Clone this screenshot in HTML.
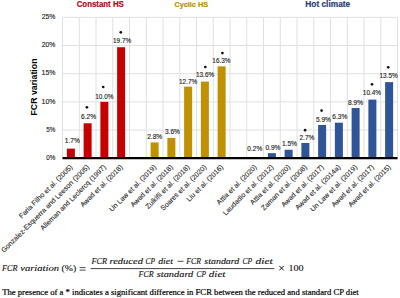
<!DOCTYPE html><html><head><meta charset="utf-8"><style>html,body{margin:0;padding:0;background:#fff;width:400px;height:298px;overflow:hidden}svg{display:block}</style></head><body>
<svg width="400" height="298" viewBox="0 0 400 298" font-family="Liberation Sans, sans-serif">
<rect width="400" height="298" fill="#fff"/>
<line x1="62.50" x2="397.50" y1="130.03" y2="130.03" stroke="#E0E0E0" stroke-width="1"/>
<line x1="62.50" x2="397.50" y1="101.86" y2="101.86" stroke="#E0E0E0" stroke-width="1"/>
<line x1="62.50" x2="397.50" y1="73.69" y2="73.69" stroke="#E0E0E0" stroke-width="1"/>
<line x1="62.50" x2="397.50" y1="45.52" y2="45.52" stroke="#E0E0E0" stroke-width="1"/>
<line x1="62.50" x2="397.50" y1="17.35" y2="17.35" stroke="#E0E0E0" stroke-width="1"/>
<line x1="62.50" x2="62.50" y1="17.35" y2="158.20" stroke="#E0E0E0" stroke-width="1"/>
<line x1="79.25" x2="79.25" y1="17.35" y2="158.20" stroke="#E0E0E0" stroke-width="1"/>
<line x1="96.00" x2="96.00" y1="17.35" y2="158.20" stroke="#E0E0E0" stroke-width="1"/>
<line x1="112.75" x2="112.75" y1="17.35" y2="158.20" stroke="#E0E0E0" stroke-width="1"/>
<line x1="129.50" x2="129.50" y1="17.35" y2="158.20" stroke="#E0E0E0" stroke-width="1"/>
<line x1="146.25" x2="146.25" y1="17.35" y2="158.20" stroke="#E0E0E0" stroke-width="1"/>
<line x1="163.00" x2="163.00" y1="17.35" y2="158.20" stroke="#E0E0E0" stroke-width="1"/>
<line x1="179.75" x2="179.75" y1="17.35" y2="158.20" stroke="#E0E0E0" stroke-width="1"/>
<line x1="196.50" x2="196.50" y1="17.35" y2="158.20" stroke="#E0E0E0" stroke-width="1"/>
<line x1="213.25" x2="213.25" y1="17.35" y2="158.20" stroke="#E0E0E0" stroke-width="1"/>
<line x1="230.00" x2="230.00" y1="17.35" y2="158.20" stroke="#E0E0E0" stroke-width="1"/>
<line x1="246.75" x2="246.75" y1="17.35" y2="158.20" stroke="#E0E0E0" stroke-width="1"/>
<line x1="263.50" x2="263.50" y1="17.35" y2="158.20" stroke="#E0E0E0" stroke-width="1"/>
<line x1="280.25" x2="280.25" y1="17.35" y2="158.20" stroke="#E0E0E0" stroke-width="1"/>
<line x1="297.00" x2="297.00" y1="17.35" y2="158.20" stroke="#E0E0E0" stroke-width="1"/>
<line x1="313.75" x2="313.75" y1="17.35" y2="158.20" stroke="#E0E0E0" stroke-width="1"/>
<line x1="330.50" x2="330.50" y1="17.35" y2="158.20" stroke="#E0E0E0" stroke-width="1"/>
<line x1="347.25" x2="347.25" y1="17.35" y2="158.20" stroke="#E0E0E0" stroke-width="1"/>
<line x1="364.00" x2="364.00" y1="17.35" y2="158.20" stroke="#E0E0E0" stroke-width="1"/>
<line x1="380.75" x2="380.75" y1="17.35" y2="158.20" stroke="#E0E0E0" stroke-width="1"/>
<line x1="397.50" x2="397.50" y1="17.35" y2="158.20" stroke="#E0E0E0" stroke-width="1"/>
<text x="46.25" y="159.90" font-size="7.3" fill="#262626" textLength="9.07" lengthAdjust="spacingAndGlyphs" stroke="#262626" stroke-width="0.15">0%</text>
<text x="46.25" y="131.73" font-size="7.3" fill="#262626" textLength="9.08" lengthAdjust="spacingAndGlyphs" stroke="#262626" stroke-width="0.15">5%</text>
<text x="41.58" y="103.56" font-size="7.3" fill="#262626" textLength="13.77" lengthAdjust="spacingAndGlyphs" stroke="#262626" stroke-width="0.15">10%</text>
<text x="41.58" y="75.39" font-size="7.3" fill="#262626" textLength="13.77" lengthAdjust="spacingAndGlyphs" stroke="#262626" stroke-width="0.15">15%</text>
<text x="41.76" y="47.22" font-size="7.3" fill="#262626" textLength="13.58" lengthAdjust="spacingAndGlyphs" stroke="#262626" stroke-width="0.15">20%</text>
<text x="41.76" y="19.05" font-size="7.3" fill="#262626" textLength="13.58" lengthAdjust="spacingAndGlyphs" stroke="#262626" stroke-width="0.15">25%</text>
<rect x="66.88" y="148.62" width="8.0" height="9.58" fill="#C50000"/>
<rect x="83.62" y="123.27" width="8.0" height="34.93" fill="#C50000"/>
<rect x="100.38" y="101.86" width="8.0" height="56.34" fill="#C50000"/>
<rect x="117.12" y="47.21" width="8.0" height="110.99" fill="#C50000"/>
<rect x="150.62" y="142.42" width="8.0" height="15.78" fill="#BF9000"/>
<rect x="167.38" y="137.92" width="8.0" height="20.28" fill="#BF9000"/>
<rect x="184.12" y="86.65" width="8.0" height="71.55" fill="#BF9000"/>
<rect x="200.88" y="81.58" width="8.0" height="76.62" fill="#BF9000"/>
<rect x="217.62" y="66.37" width="8.0" height="91.83" fill="#BF9000"/>
<rect x="251.12" y="157.07" width="8.0" height="1.13" fill="#2F5597"/>
<rect x="267.88" y="153.13" width="8.0" height="5.07" fill="#2F5597"/>
<rect x="284.62" y="149.75" width="8.0" height="8.45" fill="#2F5597"/>
<rect x="301.38" y="142.99" width="8.0" height="15.21" fill="#2F5597"/>
<rect x="318.12" y="124.96" width="8.0" height="33.24" fill="#2F5597"/>
<rect x="334.88" y="122.71" width="8.0" height="35.49" fill="#2F5597"/>
<rect x="351.62" y="108.06" width="8.0" height="50.14" fill="#2F5597"/>
<rect x="368.38" y="99.61" width="8.0" height="58.59" fill="#2F5597"/>
<rect x="385.12" y="82.14" width="8.0" height="76.06" fill="#2F5597"/>
<line x1="62.50" x2="397.50" y1="158.20" y2="158.20" stroke="#000" stroke-width="2.2"/>
<text x="64.84" y="143.40" font-size="7.4" fill="#262626" textLength="15.14" lengthAdjust="spacingAndGlyphs" stroke="#262626" stroke-width="0.15">1.7%</text>
<text x="81.12" y="118.80" font-size="7.4" fill="#262626" textLength="14.97" lengthAdjust="spacingAndGlyphs" stroke="#262626" stroke-width="0.15">6.2%</text>
<circle cx="86.90" cy="107.30" r="1.35" fill="#111"/>
<text x="95.26" y="98.60" font-size="7.4" fill="#262626" textLength="18.22" lengthAdjust="spacingAndGlyphs" stroke="#262626" stroke-width="0.15">10.0%</text>
<circle cx="103.20" cy="87.00" r="1.35" fill="#111"/>
<text x="113.06" y="43.10" font-size="7.4" fill="#262626" textLength="18.22" lengthAdjust="spacingAndGlyphs" stroke="#262626" stroke-width="0.15">19.7%</text>
<circle cx="120.80" cy="32.30" r="1.35" fill="#111"/>
<text x="147.22" y="138.50" font-size="7.4" fill="#262626" textLength="14.96" lengthAdjust="spacingAndGlyphs" stroke="#262626" stroke-width="0.15">2.8%</text>
<text x="164.95" y="133.70" font-size="7.4" fill="#262626" textLength="14.88" lengthAdjust="spacingAndGlyphs" stroke="#262626" stroke-width="0.15">3.6%</text>
<text x="178.96" y="83.50" font-size="7.4" fill="#262626" textLength="18.22" lengthAdjust="spacingAndGlyphs" stroke="#262626" stroke-width="0.15">12.7%</text>
<text x="195.96" y="77.40" font-size="7.4" fill="#262626" textLength="18.22" lengthAdjust="spacingAndGlyphs" stroke="#262626" stroke-width="0.15">13.6%</text>
<circle cx="205.30" cy="67.00" r="1.35" fill="#111"/>
<text x="212.36" y="62.50" font-size="7.4" fill="#262626" textLength="18.22" lengthAdjust="spacingAndGlyphs" stroke="#262626" stroke-width="0.15">16.3%</text>
<circle cx="222.40" cy="53.10" r="1.35" fill="#111"/>
<text x="247.34" y="150.80" font-size="7.4" fill="#262626" textLength="14.89" lengthAdjust="spacingAndGlyphs" stroke="#262626" stroke-width="0.15">0.2%</text>
<text x="265.44" y="149.80" font-size="7.4" fill="#262626" textLength="14.89" lengthAdjust="spacingAndGlyphs" stroke="#262626" stroke-width="0.15">0.9%</text>
<text x="281.89" y="146.20" font-size="7.4" fill="#262626" textLength="15.14" lengthAdjust="spacingAndGlyphs" stroke="#262626" stroke-width="0.15">1.5%</text>
<text x="299.47" y="140.20" font-size="7.4" fill="#262626" textLength="14.96" lengthAdjust="spacingAndGlyphs" stroke="#262626" stroke-width="0.15">2.7%</text>
<circle cx="305.10" cy="130.20" r="1.35" fill="#111"/>
<text x="315.94" y="121.50" font-size="7.4" fill="#262626" textLength="14.89" lengthAdjust="spacingAndGlyphs" stroke="#262626" stroke-width="0.15">5.9%</text>
<circle cx="321.60" cy="110.60" r="1.35" fill="#111"/>
<text x="332.27" y="119.10" font-size="7.4" fill="#262626" textLength="14.97" lengthAdjust="spacingAndGlyphs" stroke="#262626" stroke-width="0.15">6.3%</text>
<text x="348.12" y="104.70" font-size="7.4" fill="#262626" textLength="14.92" lengthAdjust="spacingAndGlyphs" stroke="#262626" stroke-width="0.15">8.9%</text>
<text x="362.86" y="95.40" font-size="7.4" fill="#262626" textLength="18.22" lengthAdjust="spacingAndGlyphs" stroke="#262626" stroke-width="0.15">10.4%</text>
<circle cx="372.00" cy="84.30" r="1.35" fill="#111"/>
<text x="379.56" y="78.40" font-size="7.4" fill="#262626" textLength="18.22" lengthAdjust="spacingAndGlyphs" stroke="#262626" stroke-width="0.15">13.5%</text>
<circle cx="388.20" cy="67.30" r="1.35" fill="#111"/>
<text transform="translate(71.17,165.90) rotate(-45)" x="0" y="2.3" font-size="7.0" fill="#2a2a2a" stroke="#2a2a2a" stroke-width="0.12" text-anchor="end">Faria Filho et al. (2005)</text>
<text transform="translate(87.92,165.90) rotate(-45)" x="0" y="2.3" font-size="7.0" fill="#2a2a2a" stroke="#2a2a2a" stroke-width="0.12" text-anchor="end">Gonzalez-Esquerra and Leeson (2005)</text>
<text transform="translate(104.67,165.90) rotate(-45)" x="0" y="2.3" font-size="7.0" fill="#2a2a2a" stroke="#2a2a2a" stroke-width="0.12" text-anchor="end">Alleman and Leclercq (1997)</text>
<text transform="translate(121.42,165.90) rotate(-45)" x="0" y="2.3" font-size="7.0" fill="#2a2a2a" stroke="#2a2a2a" stroke-width="0.12" text-anchor="end">Awad et al. (2018)</text>
<text transform="translate(154.93,165.90) rotate(-45)" x="0" y="2.3" font-size="7.0" fill="#2a2a2a" stroke="#2a2a2a" stroke-width="0.12" text-anchor="end">Un Law et al. (2019)</text>
<text transform="translate(171.68,165.90) rotate(-45)" x="0" y="2.3" font-size="7.0" fill="#2a2a2a" stroke="#2a2a2a" stroke-width="0.12" text-anchor="end">Awad et al. (2018)</text>
<text transform="translate(188.43,165.90) rotate(-45)" x="0" y="2.3" font-size="7.0" fill="#2a2a2a" stroke="#2a2a2a" stroke-width="0.12" text-anchor="end">Zulkifli et al. (2018)</text>
<text transform="translate(205.18,165.90) rotate(-45)" x="0" y="2.3" font-size="7.0" fill="#2a2a2a" stroke="#2a2a2a" stroke-width="0.12" text-anchor="end">Soares et al. (2020)</text>
<text transform="translate(221.93,165.90) rotate(-45)" x="0" y="2.3" font-size="7.0" fill="#2a2a2a" stroke="#2a2a2a" stroke-width="0.12" text-anchor="end">Liu et al. (2016)</text>
<text transform="translate(255.43,165.90) rotate(-45)" x="0" y="2.3" font-size="7.0" fill="#2a2a2a" stroke="#2a2a2a" stroke-width="0.12" text-anchor="end">Attia et al. (2020)</text>
<text transform="translate(272.18,165.90) rotate(-45)" x="0" y="2.3" font-size="7.0" fill="#2a2a2a" stroke="#2a2a2a" stroke-width="0.12" text-anchor="end">Laudadio et al. (2012)</text>
<text transform="translate(288.93,165.90) rotate(-45)" x="0" y="2.3" font-size="7.0" fill="#2a2a2a" stroke="#2a2a2a" stroke-width="0.12" text-anchor="end">Attia et al. (2020)</text>
<text transform="translate(305.68,165.90) rotate(-45)" x="0" y="2.3" font-size="7.0" fill="#2a2a2a" stroke="#2a2a2a" stroke-width="0.12" text-anchor="end">Zaman et al. (2008)</text>
<text transform="translate(322.43,165.90) rotate(-45)" x="0" y="2.3" font-size="7.0" fill="#2a2a2a" stroke="#2a2a2a" stroke-width="0.12" text-anchor="end">Awad et al. (2017)</text>
<text transform="translate(339.18,165.90) rotate(-45)" x="0" y="2.3" font-size="7.0" fill="#2a2a2a" stroke="#2a2a2a" stroke-width="0.12" text-anchor="end">Awad et al. (2014a)</text>
<text transform="translate(355.93,165.90) rotate(-45)" x="0" y="2.3" font-size="7.0" fill="#2a2a2a" stroke="#2a2a2a" stroke-width="0.12" text-anchor="end">Un Law et al. (2019)</text>
<text transform="translate(372.68,165.90) rotate(-45)" x="0" y="2.3" font-size="7.0" fill="#2a2a2a" stroke="#2a2a2a" stroke-width="0.12" text-anchor="end">Awad et al. (2017)</text>
<text transform="translate(389.43,165.90) rotate(-45)" x="0" y="2.3" font-size="7.0" fill="#2a2a2a" stroke="#2a2a2a" stroke-width="0.12" text-anchor="end">Awad et al. (2015)</text>
<text x="76.68" y="6.90" font-size="8.3" font-weight="bold" fill="#AE0A20" textLength="47.13" lengthAdjust="spacingAndGlyphs" stroke="#AE0A20" stroke-width="0.2">Constant HS</text>
<text x="174.50" y="6.90" font-size="8.1" font-weight="bold" fill="#BB8E00" textLength="33.48" lengthAdjust="spacingAndGlyphs" stroke="#BB8E00" stroke-width="0.2">Cyclic HS</text>
<text x="305.34" y="7.10" font-size="8.3" font-weight="bold" fill="#293F76" textLength="44.84" lengthAdjust="spacingAndGlyphs" stroke="#293F76" stroke-width="0.2">Hot climate</text>
<text transform="translate(36.8,87.0) rotate(-90)" x="0" y="0" font-size="9.5" font-weight="bold" fill="#000" text-anchor="middle" textLength="57.0" lengthAdjust="spacingAndGlyphs">FCR variation</text>
<text x="2.04" y="271.00" font-family="Liberation Serif, serif" font-style="italic" font-size="8.8" fill="#111" stroke="#111" stroke-width="0.12" textLength="15.59" lengthAdjust="spacingAndGlyphs" >FCR</text>
<text x="20.26" y="271.00" font-family="Liberation Serif, serif" font-style="italic" font-size="8.8" fill="#111" stroke="#111" stroke-width="0.12" textLength="38.78" lengthAdjust="spacingAndGlyphs" >variation</text>
<text x="61.57" y="271.00" font-family="Liberation Serif, serif" font-size="8.8" fill="#111" stroke="#111" stroke-width="0.12" textLength="14.66" lengthAdjust="spacingAndGlyphs" >(%)</text>
<path d="M79.6 267.6H85.6M79.6 270.1H85.6" stroke="#111" stroke-width="0.75"/>
<line x1="90.6" x2="274.3" y1="268.6" y2="268.6" stroke="#111" stroke-width="0.8"/>
<text x="91.54" y="264.00" font-family="Liberation Serif, serif" font-style="italic" font-size="8.8" fill="#111" stroke="#111" stroke-width="0.12" textLength="15.59" lengthAdjust="spacingAndGlyphs" >FCR</text>
<text x="109.48" y="264.00" font-family="Liberation Serif, serif" font-style="italic" font-size="8.8" fill="#111" stroke="#111" stroke-width="0.12" textLength="33.50" lengthAdjust="spacingAndGlyphs" >reduced</text>
<text x="145.49" y="264.00" font-family="Liberation Serif, serif" font-style="italic" font-size="8.8" fill="#111" stroke="#111" stroke-width="0.12" textLength="9.50" lengthAdjust="spacingAndGlyphs" >CP</text>
<text x="158.20" y="264.00" font-family="Liberation Serif, serif" font-style="italic" font-size="8.8" fill="#111" stroke="#111" stroke-width="0.12" textLength="14.70" lengthAdjust="spacingAndGlyphs" >diet</text>
<text x="186.24" y="264.00" font-family="Liberation Serif, serif" font-style="italic" font-size="8.8" fill="#111" stroke="#111" stroke-width="0.12" textLength="14.69" lengthAdjust="spacingAndGlyphs" >FCR</text>
<text x="204.38" y="264.00" font-family="Liberation Serif, serif" font-style="italic" font-size="8.8" fill="#111" stroke="#111" stroke-width="0.12" textLength="34.90" lengthAdjust="spacingAndGlyphs" >standard</text>
<text x="242.58" y="264.00" font-family="Liberation Serif, serif" font-style="italic" font-size="8.8" fill="#111" stroke="#111" stroke-width="0.12" textLength="9.61" lengthAdjust="spacingAndGlyphs" >CP</text>
<text x="255.55" y="264.00" font-family="Liberation Serif, serif" font-style="italic" font-size="8.8" fill="#111" stroke="#111" stroke-width="0.12" textLength="17.22" lengthAdjust="spacingAndGlyphs" >diet</text>
<path d="M177.6 261.3H183.5" stroke="#111" stroke-width="0.75"/>
<text x="138.54" y="277.00" font-family="Liberation Serif, serif" font-style="italic" font-size="8.8" fill="#111" stroke="#111" stroke-width="0.12" textLength="15.09" lengthAdjust="spacingAndGlyphs" >FCR</text>
<text x="156.77" y="277.00" font-family="Liberation Serif, serif" font-style="italic" font-size="8.8" fill="#111" stroke="#111" stroke-width="0.12" textLength="36.50" lengthAdjust="spacingAndGlyphs" >standard</text>
<text x="196.49" y="277.00" font-family="Liberation Serif, serif" font-style="italic" font-size="8.8" fill="#111" stroke="#111" stroke-width="0.12" textLength="9.50" lengthAdjust="spacingAndGlyphs" >CP</text>
<text x="208.87" y="277.00" font-family="Liberation Serif, serif" font-style="italic" font-size="8.8" fill="#111" stroke="#111" stroke-width="0.12" textLength="16.51" lengthAdjust="spacingAndGlyphs" >diet</text>
<path d="M279.3 265.9L283.8 270.4M283.8 265.9L279.3 270.4" stroke="#111" stroke-width="1.0"/>
<text x="288.51" y="270.50" font-family="Liberation Serif, serif" font-size="8.8" fill="#111" stroke="#111" stroke-width="0.12" textLength="15.17" lengthAdjust="spacingAndGlyphs" >100</text>
<text x="2.2" y="295.2" font-family="Liberation Serif, serif" font-size="8.4" fill="#000" stroke="#000" stroke-width="0.2" textLength="356.6" lengthAdjust="spacingAndGlyphs">The presence of a * indicates a significant difference in FCR between the reduced and standard CP diet</text>
</svg></body></html>
